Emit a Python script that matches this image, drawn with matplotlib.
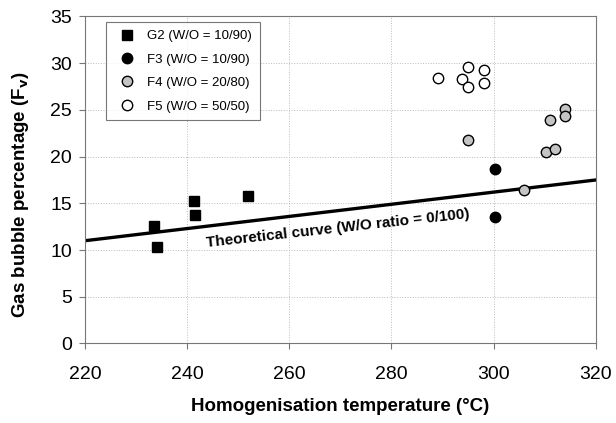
import matplotlib
matplotlib.use("Agg")
import matplotlib.pyplot as plt

plt.rcParams['font.family'] = ['Liberation Sans', 'DejaVu Sans']

# G2 (W/O = 10/90)
g2_t = [233.6, 234.0, 241.3, 241.6, 251.9]
g2_f = [12.6, 10.3, 15.3, 13.7, 15.8]
# F3 (W/O = 10/90)
f3_t = [300.2, 300.2]
f3_f = [18.7, 13.5]
# F4 (W/O = 20/80)
f4_t = [295.0, 305.9, 310.2, 312.1, 311.1, 313.9, 313.9]
f4_f = [21.8, 16.4, 20.5, 20.8, 23.9, 25.1, 24.4]
# F5 (W/O = 50/50)
f5_t = [289.2, 293.9, 295.0, 295.0, 298.1, 298.1]
f5_f = [28.4, 28.3, 29.6, 27.5, 29.3, 27.9]
# theoretical curve, W/O ratio = 0/100
theo_t = [220, 240, 260, 280, 300, 320]
theo_f = [11.0, 12.3, 13.6, 14.9, 16.2, 17.5]

fig = plt.figure(figsize=(6.16, 4.23), dpi=100)
ax = fig.add_axes([0.138, 0.188, 0.829, 0.773])

ax.plot(theo_t, theo_f, color='black', lw=2.4, zorder=2)
ax.plot(g2_t, g2_f, 's', color='black', ms=6.5, label='G2 (W/O = 10/90)', zorder=3)
ax.plot(f3_t, f3_f, 'o', color='black', ms=7.5, label='F3 (W/O = 10/90)', zorder=3)
ax.plot(f4_t, f4_f, 'o', mfc='#c4c4c4', mec='black', mew=1.0, ms=7.5,
        label='F4 (W/O = 20/80)', zorder=3)
ax.plot(f5_t, f5_f, 'o', mfc='white', mec='black', mew=1.0, ms=7.5,
        label='F5 (W/O = 50/50)', zorder=3)

ax.text(269.6, 12.3, 'Theoretical curve (W/O ratio = 0/100)', rotation=6.3,
        ha='center', va='center', fontsize=11, fontweight='bold')

ax.set_xlim(220, 320)
ax.set_ylim(0, 35)
ax.set_xticks(range(220, 321, 20))
ax.set_yticks(range(0, 36, 5))
ax.tick_params(labelsize=14, color='#777777', length=4, width=0.8)
ax.tick_params(axis='x', pad=12)
ax.tick_params(axis='y', pad=5.5)
ax.grid(True, ls=':', color='#bbbbbb', lw=0.7)
ax.set_axisbelow(True)
for s in ax.spines.values():
    s.set_color('#777777')
    s.set_linewidth(0.8)

ax.set_xlabel('Homogenisation temperature (°C)', fontsize=13.5, fontweight='bold', labelpad=11)
ax.set_ylabel('Gas bubble percentage (F$_\\mathbf{v}$)', fontsize=13.5, fontweight='bold')
ax.yaxis.set_label_coords(-0.106, 0.454)

leg = ax.legend(loc='upper left', bbox_to_anchor=(0.041, 0.983), borderaxespad=0,
                fontsize=9.5, frameon=True, fancybox=False, edgecolor='#555555',
                handletextpad=0.5, borderpad=0.6, labelspacing=0.85, handlelength=2.0)
leg.get_frame().set_linewidth(0.8)

fig.savefig('out.png', dpi=100)
